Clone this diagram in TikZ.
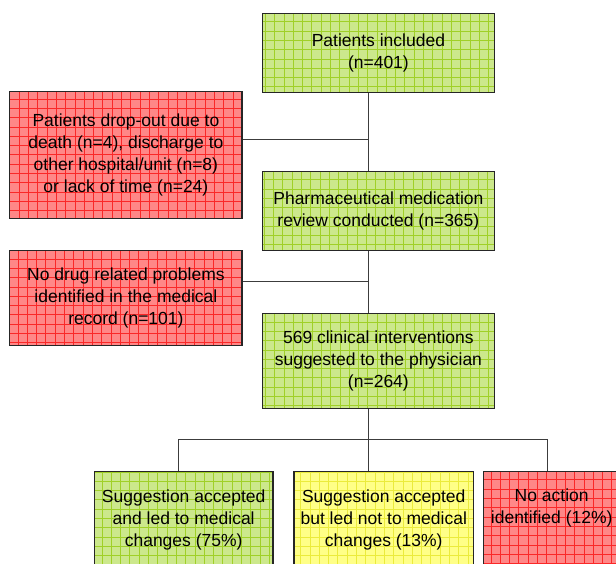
\documentclass[tikz,border=0pt]{standalone}
\usepackage{fontspec}
\setmainfont{Liberation Sans}
\definecolor{gfill}{RGB}{204,232,140}
\definecolor{gline}{RGB}{160,208,40}
\definecolor{rfill}{RGB}{255,135,135}
\definecolor{rline}{RGB}{250,40,40}
\definecolor{yfill}{RGB}{255,255,135}
\definecolor{yline}{RGB}{235,235,60}
\definecolor{conn}{RGB}{60,60,60}
\tikzset{
  boxbase/.style={draw=black!85, line width=1.1pt, align=center, inner sep=0pt,
    font=\fontsize{17.5}{21.7}\selectfont},
  gridfill/.style 2 args={fill=#1, path picture={\draw[#2, line width=0.7pt, step=9.3pt]
    ([shift={(-10pt,-10pt)}]path picture bounding box.south west) grid ([shift={(10pt,10pt)}]path picture bounding box.north east);}},
  greenbox/.style={boxbase, gridfill={gfill}{gline}},
  redbox/.style={boxbase, gridfill={rfill}{rline}},
  yellowbox/.style={boxbase, gridfill={yfill}{yline}},
  link/.style={draw=conn, line width=0.9pt}
}
\begin{document}
\begin{tikzpicture}[x=1pt,y=1pt]
\useasboundingbox (0,0) rectangle (616,563);
\clip (0,0) rectangle (616,563);
\fill[white] (0,0) rectangle (616,563);
\node[greenbox, minimum width=231.8pt, minimum height=79pt] (b1) at (378.4,510.2) {Patients included\\(n=401)};
\node[redbox, minimum width=232.2pt, minimum height=126.7pt] (r1) at (125.9,408.05) {Patients drop-out due to\\death (n=4), discharge to\\other hospital/unit (n=8)\\or lack of time (n=24)};
\node[greenbox, minimum width=231.8pt, minimum height=79pt] (b2) at (378.4,352.2) {Pharmaceutical medication\\review conducted (n=365)};
\node[redbox, minimum width=232.2pt, minimum height=95.1pt] (r2) at (125.9,265.15) {No drug related problems\\identified in the medical\\record (n=101)};
\node[greenbox, minimum width=231.8pt, minimum height=94.8pt] (b3) at (378.4,202.1) {569 clinical interventions\\suggested to the physician\\(n=264)};
\node[greenbox, minimum width=178.7pt, minimum height=98pt] (c1) at (183.65,42.9) {Suggestion accepted\\and led to medical\\changes (75\%)};
\node[yellowbox, minimum width=179.5pt, minimum height=98pt] (c2) at (383.75,42.9) {Suggestion accepted\\but led not to medical\\changes (13\%)};
\node[redbox, minimum width=136.7pt, minimum height=98pt] (c3) at (551.7,42.9) {No action\\identified (12\%)\\\strut};
\coordinate (spine) at (368.2,0);
\coordinate (j1) at (368.2,423.7);
\coordinate (j2) at (368.2,281.5);
\coordinate (busL) at (178.8,123.5);
\coordinate (busR) at (547,123.5);
\draw[link] (b1.south -| spine) -- (b2.north -| spine);
\draw[link] (r1.east |- j1) -- (j1);
\draw[link] (b2.south -| spine) -- (b3.north -| spine);
\draw[link] (r2.east |- j2) -- (j2);
\draw[link] (b3.south -| spine) -- (c2.north -| spine);
\draw[link] (c1.north -| busL) -- (busL) -- (busR) -- (c3.north -| busR);
\end{tikzpicture}
\end{document}
